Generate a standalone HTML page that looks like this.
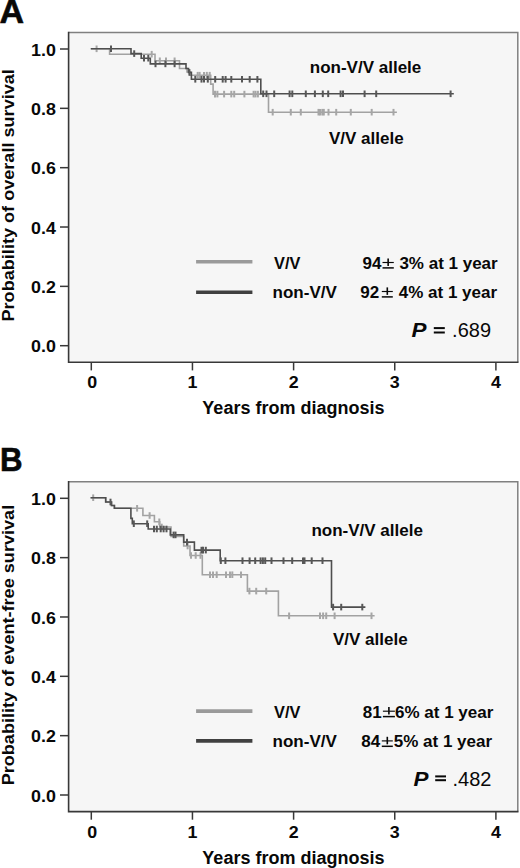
<!DOCTYPE html>
<html><head><meta charset="utf-8"><style>
html,body{margin:0;padding:0;background:#fff;width:520px;height:868px;overflow:hidden}
svg{display:block}
text{font-family:"Liberation Sans", sans-serif;fill:#080808}
.b{font-weight:bold}
.bi{font-weight:bold;font-style:italic}
</style></head><body>
<svg width="520" height="868" viewBox="0 0 520 868">
<text x="-0.50" y="23.10" class="b" font-size="34" stroke="#080808" stroke-width="0.6">A</text><rect x="68.6" y="32.5" width="449.2" height="329.80" fill="#f6f6f6"/><polyline points="68.6,32.5 517.8,32.5 517.8,362.3" fill="none" stroke="#808080" stroke-width="1.5"/><polyline points="68.6,31.8 68.6,362.3 518.5,362.3" fill="none" stroke="#383838" stroke-width="1.6"/><line x1="60" y1="345.70" x2="68.6" y2="345.70" stroke="#383838" stroke-width="1.5"/><text transform="translate(55.90,352.40) scale(1.05,1.0)" text-anchor="end" class="b" font-size="17">0.0</text><line x1="60" y1="286.36" x2="68.6" y2="286.36" stroke="#383838" stroke-width="1.5"/><text transform="translate(55.90,293.06) scale(1.05,1.0)" text-anchor="end" class="b" font-size="17">0.2</text><line x1="60" y1="227.02" x2="68.6" y2="227.02" stroke="#383838" stroke-width="1.5"/><text transform="translate(55.90,233.72) scale(1.05,1.0)" text-anchor="end" class="b" font-size="17">0.4</text><line x1="60" y1="167.68" x2="68.6" y2="167.68" stroke="#383838" stroke-width="1.5"/><text transform="translate(55.90,174.38) scale(1.05,1.0)" text-anchor="end" class="b" font-size="17">0.6</text><line x1="60" y1="108.34" x2="68.6" y2="108.34" stroke="#383838" stroke-width="1.5"/><text transform="translate(55.90,115.04) scale(1.05,1.0)" text-anchor="end" class="b" font-size="17">0.8</text><line x1="60" y1="49.00" x2="68.6" y2="49.00" stroke="#383838" stroke-width="1.5"/><text transform="translate(55.90,55.70) scale(1.05,1.0)" text-anchor="end" class="b" font-size="17">1.0</text><line x1="91.30" y1="362.3" x2="91.30" y2="370.4" stroke="#383838" stroke-width="1.5"/><text transform="translate(92.10,387.70) scale(1.05,1.0)" text-anchor="middle" class="b" font-size="17">0</text><line x1="192.45" y1="362.3" x2="192.45" y2="370.4" stroke="#383838" stroke-width="1.5"/><text transform="translate(192.45,387.70) scale(1.05,1.0)" text-anchor="middle" class="b" font-size="17">1</text><line x1="293.60" y1="362.3" x2="293.60" y2="370.4" stroke="#383838" stroke-width="1.5"/><text transform="translate(293.60,387.70) scale(1.05,1.0)" text-anchor="middle" class="b" font-size="17">2</text><line x1="394.75" y1="362.3" x2="394.75" y2="370.4" stroke="#383838" stroke-width="1.5"/><text transform="translate(394.75,387.70) scale(1.05,1.0)" text-anchor="middle" class="b" font-size="17">3</text><line x1="495.90" y1="362.3" x2="495.90" y2="370.4" stroke="#383838" stroke-width="1.5"/><text transform="translate(495.90,387.70) scale(1.05,1.0)" text-anchor="middle" class="b" font-size="17">4</text><text x="293.40" y="413.60" text-anchor="middle" class="b" font-size="18">Years from diagnosis</text><text transform="translate(14.3,195.3) rotate(-90) scale(1.006,0.93)" text-anchor="middle" class="b" font-size="18">Probability of overall survival</text><polyline points="90.8,48.8 109.6,48.8 109.6,54.2 155,54.2 155,60.8 179.5,60.8 179.5,68.5 187,68.5 187,72 190,72 190,75.2 210.7,75.2 210.7,84.1 213.1,84.1 213.1,94.1 268.5,94.1 268.5,112.2 396.9,112.2" fill="none" stroke="#a2a2a2" stroke-width="1.6"/><line x1="96.6" y1="45.5" x2="96.6" y2="52.099999999999994" stroke="#a6a6a6" stroke-width="2.0"/><line x1="151.7" y1="50.900000000000006" x2="151.7" y2="57.5" stroke="#a6a6a6" stroke-width="2.0"/><line x1="159.8" y1="57.5" x2="159.8" y2="64.1" stroke="#a6a6a6" stroke-width="2.0"/><line x1="166" y1="57.5" x2="166" y2="64.1" stroke="#a6a6a6" stroke-width="2.0"/><line x1="174.6" y1="57.5" x2="174.6" y2="64.1" stroke="#a6a6a6" stroke-width="2.0"/><line x1="197.7" y1="71.9" x2="197.7" y2="78.5" stroke="#a6a6a6" stroke-width="2.0"/><line x1="199.6" y1="71.9" x2="199.6" y2="78.5" stroke="#a6a6a6" stroke-width="2.0"/><line x1="204" y1="71.9" x2="204" y2="78.5" stroke="#a6a6a6" stroke-width="2.0"/><line x1="206.8" y1="71.9" x2="206.8" y2="78.5" stroke="#a6a6a6" stroke-width="2.0"/><line x1="209.7" y1="71.9" x2="209.7" y2="78.5" stroke="#a6a6a6" stroke-width="2.0"/><line x1="215" y1="90.8" x2="215" y2="97.39999999999999" stroke="#a6a6a6" stroke-width="2.0"/><line x1="217.4" y1="90.8" x2="217.4" y2="97.39999999999999" stroke="#a6a6a6" stroke-width="2.0"/><line x1="224.1" y1="90.8" x2="224.1" y2="97.39999999999999" stroke="#a6a6a6" stroke-width="2.0"/><line x1="231.3" y1="90.8" x2="231.3" y2="97.39999999999999" stroke="#a6a6a6" stroke-width="2.0"/><line x1="234.2" y1="90.8" x2="234.2" y2="97.39999999999999" stroke="#a6a6a6" stroke-width="2.0"/><line x1="244.4" y1="90.8" x2="244.4" y2="97.39999999999999" stroke="#a6a6a6" stroke-width="2.0"/><line x1="253.6" y1="90.8" x2="253.6" y2="97.39999999999999" stroke="#a6a6a6" stroke-width="2.0"/><line x1="255.5" y1="90.8" x2="255.5" y2="97.39999999999999" stroke="#a6a6a6" stroke-width="2.0"/><line x1="257.9" y1="90.8" x2="257.9" y2="97.39999999999999" stroke="#a6a6a6" stroke-width="2.0"/><line x1="272.7" y1="108.9" x2="272.7" y2="115.5" stroke="#a6a6a6" stroke-width="2.0"/><line x1="290.8" y1="108.9" x2="290.8" y2="115.5" stroke="#a6a6a6" stroke-width="2.0"/><line x1="300.8" y1="108.9" x2="300.8" y2="115.5" stroke="#a6a6a6" stroke-width="2.0"/><line x1="318.5" y1="108.9" x2="318.5" y2="115.5" stroke="#a6a6a6" stroke-width="2.0"/><line x1="320" y1="108.9" x2="320" y2="115.5" stroke="#a6a6a6" stroke-width="2.0"/><line x1="322.3" y1="108.9" x2="322.3" y2="115.5" stroke="#a6a6a6" stroke-width="2.0"/><line x1="323.8" y1="108.9" x2="323.8" y2="115.5" stroke="#a6a6a6" stroke-width="2.0"/><line x1="328.5" y1="108.9" x2="328.5" y2="115.5" stroke="#a6a6a6" stroke-width="2.0"/><line x1="336.2" y1="108.9" x2="336.2" y2="115.5" stroke="#a6a6a6" stroke-width="2.0"/><line x1="350.8" y1="108.9" x2="350.8" y2="115.5" stroke="#a6a6a6" stroke-width="2.0"/><line x1="371.7" y1="108.9" x2="371.7" y2="115.5" stroke="#a6a6a6" stroke-width="2.0"/><line x1="393.5" y1="108.9" x2="393.5" y2="115.5" stroke="#a6a6a6" stroke-width="2.0"/><polyline points="90.8,48.8 131,48.8 131,53.6 141.2,53.6 141.2,58.2 150.3,58.2 150.3,63.9 186,63.9 186,68.5 188.5,68.5 188.5,72.4 191.4,72.4 191.4,79.3 260.8,79.3 260.8,93.8 453.8,93.8" fill="none" stroke="#4e4e4e" stroke-width="1.6"/><line x1="111" y1="45.5" x2="111" y2="52.099999999999994" stroke="#575757" stroke-width="2.0"/><line x1="134.2" y1="50.300000000000004" x2="134.2" y2="56.9" stroke="#575757" stroke-width="2.0"/><line x1="144" y1="54.900000000000006" x2="144" y2="61.5" stroke="#575757" stroke-width="2.0"/><line x1="148.3" y1="54.900000000000006" x2="148.3" y2="61.5" stroke="#575757" stroke-width="2.0"/><line x1="155.5" y1="60.6" x2="155.5" y2="67.2" stroke="#575757" stroke-width="2.0"/><line x1="165.4" y1="60.6" x2="165.4" y2="67.2" stroke="#575757" stroke-width="2.0"/><line x1="174.6" y1="60.6" x2="174.6" y2="67.2" stroke="#575757" stroke-width="2.0"/><line x1="189.4" y1="69.10000000000001" x2="189.4" y2="75.7" stroke="#575757" stroke-width="2.0"/><line x1="195.3" y1="76.0" x2="195.3" y2="82.6" stroke="#575757" stroke-width="2.0"/><line x1="201.5" y1="76.0" x2="201.5" y2="82.6" stroke="#575757" stroke-width="2.0"/><line x1="204" y1="76.0" x2="204" y2="82.6" stroke="#575757" stroke-width="2.0"/><line x1="207.8" y1="76.0" x2="207.8" y2="82.6" stroke="#575757" stroke-width="2.0"/><line x1="215.2" y1="76.0" x2="215.2" y2="82.6" stroke="#575757" stroke-width="2.0"/><line x1="222.7" y1="76.0" x2="222.7" y2="82.6" stroke="#575757" stroke-width="2.0"/><line x1="225.6" y1="76.0" x2="225.6" y2="82.6" stroke="#575757" stroke-width="2.0"/><line x1="231.3" y1="76.0" x2="231.3" y2="82.6" stroke="#575757" stroke-width="2.0"/><line x1="242" y1="76.0" x2="242" y2="82.6" stroke="#575757" stroke-width="2.0"/><line x1="249.7" y1="76.0" x2="249.7" y2="82.6" stroke="#575757" stroke-width="2.0"/><line x1="257.4" y1="76.0" x2="257.4" y2="82.6" stroke="#575757" stroke-width="2.0"/><line x1="263.2" y1="90.5" x2="263.2" y2="97.1" stroke="#575757" stroke-width="2.0"/><line x1="266.5" y1="90.5" x2="266.5" y2="97.1" stroke="#575757" stroke-width="2.0"/><line x1="274.2" y1="90.5" x2="274.2" y2="97.1" stroke="#575757" stroke-width="2.0"/><line x1="289.6" y1="90.5" x2="289.6" y2="97.1" stroke="#575757" stroke-width="2.0"/><line x1="292.3" y1="90.5" x2="292.3" y2="97.1" stroke="#575757" stroke-width="2.0"/><line x1="305.8" y1="90.5" x2="305.8" y2="97.1" stroke="#575757" stroke-width="2.0"/><line x1="314.9" y1="90.5" x2="314.9" y2="97.1" stroke="#575757" stroke-width="2.0"/><line x1="322.8" y1="90.5" x2="322.8" y2="97.1" stroke="#575757" stroke-width="2.0"/><line x1="328.2" y1="90.5" x2="328.2" y2="97.1" stroke="#575757" stroke-width="2.0"/><line x1="340.6" y1="90.5" x2="340.6" y2="97.1" stroke="#575757" stroke-width="2.0"/><line x1="343" y1="90.5" x2="343" y2="97.1" stroke="#575757" stroke-width="2.0"/><line x1="364.6" y1="90.5" x2="364.6" y2="97.1" stroke="#575757" stroke-width="2.0"/><line x1="376.2" y1="90.5" x2="376.2" y2="97.1" stroke="#575757" stroke-width="2.0"/><line x1="450.6" y1="90.5" x2="450.6" y2="97.1" stroke="#575757" stroke-width="2.0"/><line x1="196.1" y1="261.8" x2="252.4" y2="261.8" stroke="#9a9a9a" stroke-width="3.6"/><line x1="196.1" y1="292.3" x2="252.4" y2="292.3" stroke="#404040" stroke-width="3.6"/><text transform="translate(0.10,471.20) scale(0.92,1.0)" class="b" font-size="34" stroke="#080808" stroke-width="0.6">B</text><rect x="68.6" y="481.8" width="449.2" height="329.80" fill="#f6f6f6"/><polyline points="68.6,481.8 517.8,481.8 517.8,811.6" fill="none" stroke="#808080" stroke-width="1.5"/><polyline points="68.6,481.1 68.6,811.6 518.5,811.6" fill="none" stroke="#383838" stroke-width="1.6"/><line x1="60" y1="795.00" x2="68.6" y2="795.00" stroke="#383838" stroke-width="1.5"/><text transform="translate(55.90,801.70) scale(1.05,1.0)" text-anchor="end" class="b" font-size="17">0.0</text><line x1="60" y1="735.66" x2="68.6" y2="735.66" stroke="#383838" stroke-width="1.5"/><text transform="translate(55.90,742.36) scale(1.05,1.0)" text-anchor="end" class="b" font-size="17">0.2</text><line x1="60" y1="676.32" x2="68.6" y2="676.32" stroke="#383838" stroke-width="1.5"/><text transform="translate(55.90,683.02) scale(1.05,1.0)" text-anchor="end" class="b" font-size="17">0.4</text><line x1="60" y1="616.98" x2="68.6" y2="616.98" stroke="#383838" stroke-width="1.5"/><text transform="translate(55.90,623.68) scale(1.05,1.0)" text-anchor="end" class="b" font-size="17">0.6</text><line x1="60" y1="557.64" x2="68.6" y2="557.64" stroke="#383838" stroke-width="1.5"/><text transform="translate(55.90,564.34) scale(1.05,1.0)" text-anchor="end" class="b" font-size="17">0.8</text><line x1="60" y1="498.30" x2="68.6" y2="498.30" stroke="#383838" stroke-width="1.5"/><text transform="translate(55.90,505.00) scale(1.05,1.0)" text-anchor="end" class="b" font-size="17">1.0</text><line x1="91.30" y1="811.6" x2="91.30" y2="819.7" stroke="#383838" stroke-width="1.5"/><text transform="translate(92.10,837.50) scale(1.05,1.0)" text-anchor="middle" class="b" font-size="17">0</text><line x1="192.45" y1="811.6" x2="192.45" y2="819.7" stroke="#383838" stroke-width="1.5"/><text transform="translate(192.45,837.50) scale(1.05,1.0)" text-anchor="middle" class="b" font-size="17">1</text><line x1="293.60" y1="811.6" x2="293.60" y2="819.7" stroke="#383838" stroke-width="1.5"/><text transform="translate(293.60,837.50) scale(1.05,1.0)" text-anchor="middle" class="b" font-size="17">2</text><line x1="394.75" y1="811.6" x2="394.75" y2="819.7" stroke="#383838" stroke-width="1.5"/><text transform="translate(394.75,837.50) scale(1.05,1.0)" text-anchor="middle" class="b" font-size="17">3</text><line x1="495.90" y1="811.6" x2="495.90" y2="819.7" stroke="#383838" stroke-width="1.5"/><text transform="translate(495.90,837.50) scale(1.05,1.0)" text-anchor="middle" class="b" font-size="17">4</text><text x="293.40" y="864.30" text-anchor="middle" class="b" font-size="18">Years from diagnosis</text><text transform="translate(14.3,645.1) rotate(-90) scale(1.006,0.93)" text-anchor="middle" class="b" font-size="18">Probability of event-free survival</text><polyline points="90.6,497.7 105.7,497.7 105.7,502 111.5,502 111.5,505.5 114.4,505.5 114.4,508.3 142.9,508.3 142.9,515.5 154.4,515.5 154.4,521.8 159.7,521.8 159.7,527 171,527 171,536.5 183.7,536.5 183.7,546 190,546 190,555.5 202.3,555.5 202.3,574.7 247.4,574.7 247.4,591.1 278.4,591.1 278.4,615.8 374.6,615.8" fill="none" stroke="#a2a2a2" stroke-width="1.6"/><line x1="93.2" y1="494.4" x2="93.2" y2="501.0" stroke="#a6a6a6" stroke-width="2.0"/><line x1="137.1" y1="505.0" x2="137.1" y2="511.6" stroke="#a6a6a6" stroke-width="2.0"/><line x1="149.6" y1="512.2" x2="149.6" y2="518.8" stroke="#a6a6a6" stroke-width="2.0"/><line x1="159.3" y1="518.5" x2="159.3" y2="525.0999999999999" stroke="#a6a6a6" stroke-width="2.0"/><line x1="161.7" y1="523.7" x2="161.7" y2="530.3" stroke="#a6a6a6" stroke-width="2.0"/><line x1="187.6" y1="542.7" x2="187.6" y2="549.3" stroke="#a6a6a6" stroke-width="2.0"/><line x1="191" y1="552.2" x2="191" y2="558.8" stroke="#a6a6a6" stroke-width="2.0"/><line x1="195.7" y1="552.2" x2="195.7" y2="558.8" stroke="#a6a6a6" stroke-width="2.0"/><line x1="200.5" y1="552.2" x2="200.5" y2="558.8" stroke="#a6a6a6" stroke-width="2.0"/><line x1="210" y1="571.4000000000001" x2="210" y2="578.0" stroke="#a6a6a6" stroke-width="2.0"/><line x1="213" y1="571.4000000000001" x2="213" y2="578.0" stroke="#a6a6a6" stroke-width="2.0"/><line x1="216.7" y1="571.4000000000001" x2="216.7" y2="578.0" stroke="#a6a6a6" stroke-width="2.0"/><line x1="226" y1="571.4000000000001" x2="226" y2="578.0" stroke="#a6a6a6" stroke-width="2.0"/><line x1="230" y1="571.4000000000001" x2="230" y2="578.0" stroke="#a6a6a6" stroke-width="2.0"/><line x1="232.3" y1="571.4000000000001" x2="232.3" y2="578.0" stroke="#a6a6a6" stroke-width="2.0"/><line x1="241" y1="571.4000000000001" x2="241" y2="578.0" stroke="#a6a6a6" stroke-width="2.0"/><line x1="249.4" y1="587.8000000000001" x2="249.4" y2="594.4" stroke="#a6a6a6" stroke-width="2.0"/><line x1="256.2" y1="587.8000000000001" x2="256.2" y2="594.4" stroke="#a6a6a6" stroke-width="2.0"/><line x1="266.2" y1="587.8000000000001" x2="266.2" y2="594.4" stroke="#a6a6a6" stroke-width="2.0"/><line x1="289.1" y1="612.5" x2="289.1" y2="619.0999999999999" stroke="#a6a6a6" stroke-width="2.0"/><line x1="320" y1="612.5" x2="320" y2="619.0999999999999" stroke="#a6a6a6" stroke-width="2.0"/><line x1="323.1" y1="612.5" x2="323.1" y2="619.0999999999999" stroke="#a6a6a6" stroke-width="2.0"/><line x1="326.2" y1="612.5" x2="326.2" y2="619.0999999999999" stroke="#a6a6a6" stroke-width="2.0"/><line x1="334.6" y1="612.5" x2="334.6" y2="619.0999999999999" stroke="#a6a6a6" stroke-width="2.0"/><line x1="371.5" y1="612.5" x2="371.5" y2="619.0999999999999" stroke="#a6a6a6" stroke-width="2.0"/><polyline points="90.6,497.7 105.7,497.7 105.7,502 111.5,502 111.5,505.5 114.4,505.5 114.4,508.3 130.9,508.3 130.9,518.4 132.3,518.4 132.3,523.7 148.2,523.7 148.2,529 170.3,529 170.3,534.9 183.7,534.9 183.7,542.1 194.4,542.1 194.4,550.1 220.2,550.1 220.2,560.7 331.5,560.7 331.5,607.1 365.4,607.1" fill="none" stroke="#4e4e4e" stroke-width="1.6"/><line x1="110.5" y1="498.7" x2="110.5" y2="505.3" stroke="#575757" stroke-width="2.0"/><line x1="133.8" y1="520.4000000000001" x2="133.8" y2="527.0" stroke="#575757" stroke-width="2.0"/><line x1="147.2" y1="520.4000000000001" x2="147.2" y2="527.0" stroke="#575757" stroke-width="2.0"/><line x1="154" y1="525.7" x2="154" y2="532.3" stroke="#575757" stroke-width="2.0"/><line x1="156.8" y1="525.7" x2="156.8" y2="532.3" stroke="#575757" stroke-width="2.0"/><line x1="160.7" y1="525.7" x2="160.7" y2="532.3" stroke="#575757" stroke-width="2.0"/><line x1="163.6" y1="525.7" x2="163.6" y2="532.3" stroke="#575757" stroke-width="2.0"/><line x1="166.5" y1="525.7" x2="166.5" y2="532.3" stroke="#575757" stroke-width="2.0"/><line x1="173.6" y1="531.6" x2="173.6" y2="538.1999999999999" stroke="#575757" stroke-width="2.0"/><line x1="175.5" y1="531.6" x2="175.5" y2="538.1999999999999" stroke="#575757" stroke-width="2.0"/><line x1="187" y1="538.8000000000001" x2="187" y2="545.4" stroke="#575757" stroke-width="2.0"/><line x1="201.5" y1="546.8000000000001" x2="201.5" y2="553.4" stroke="#575757" stroke-width="2.0"/><line x1="203" y1="546.8000000000001" x2="203" y2="553.4" stroke="#575757" stroke-width="2.0"/><line x1="205.8" y1="546.8000000000001" x2="205.8" y2="553.4" stroke="#575757" stroke-width="2.0"/><line x1="220.8" y1="557.4000000000001" x2="220.8" y2="564.0" stroke="#575757" stroke-width="2.0"/><line x1="225.4" y1="557.4000000000001" x2="225.4" y2="564.0" stroke="#575757" stroke-width="2.0"/><line x1="242.5" y1="557.4000000000001" x2="242.5" y2="564.0" stroke="#575757" stroke-width="2.0"/><line x1="249.6" y1="557.4000000000001" x2="249.6" y2="564.0" stroke="#575757" stroke-width="2.0"/><line x1="255.2" y1="557.4000000000001" x2="255.2" y2="564.0" stroke="#575757" stroke-width="2.0"/><line x1="260.6" y1="557.4000000000001" x2="260.6" y2="564.0" stroke="#575757" stroke-width="2.0"/><line x1="262.9" y1="557.4000000000001" x2="262.9" y2="564.0" stroke="#575757" stroke-width="2.0"/><line x1="265.2" y1="557.4000000000001" x2="265.2" y2="564.0" stroke="#575757" stroke-width="2.0"/><line x1="271.5" y1="557.4000000000001" x2="271.5" y2="564.0" stroke="#575757" stroke-width="2.0"/><line x1="283.5" y1="557.4000000000001" x2="283.5" y2="564.0" stroke="#575757" stroke-width="2.0"/><line x1="292.2" y1="557.4000000000001" x2="292.2" y2="564.0" stroke="#575757" stroke-width="2.0"/><line x1="303" y1="557.4000000000001" x2="303" y2="564.0" stroke="#575757" stroke-width="2.0"/><line x1="304.5" y1="557.4000000000001" x2="304.5" y2="564.0" stroke="#575757" stroke-width="2.0"/><line x1="311.7" y1="557.4000000000001" x2="311.7" y2="564.0" stroke="#575757" stroke-width="2.0"/><line x1="322.5" y1="557.4000000000001" x2="322.5" y2="564.0" stroke="#575757" stroke-width="2.0"/><line x1="333.1" y1="603.8000000000001" x2="333.1" y2="610.4" stroke="#575757" stroke-width="2.0"/><line x1="341.2" y1="603.8000000000001" x2="341.2" y2="610.4" stroke="#575757" stroke-width="2.0"/><line x1="362.3" y1="603.8000000000001" x2="362.3" y2="610.4" stroke="#575757" stroke-width="2.0"/><line x1="196.1" y1="711.1" x2="252.4" y2="711.1" stroke="#9a9a9a" stroke-width="3.6"/><line x1="196.1" y1="740.9" x2="252.4" y2="740.9" stroke="#404040" stroke-width="3.6"/><text x="309.80" y="73.10" class="b" font-size="17">non-V/V allele</text><text x="329.00" y="143.90" class="b" font-size="17">V/V allele</text><text x="311.40" y="536.20" class="b" font-size="17">non-V/V allele</text><text x="333.00" y="644.60" class="b" font-size="17">V/V allele</text><text transform="translate(274.00,269.40) scale(0.96,1.0)" class="b" font-size="17">V/V</text><text x="272.60" y="297.80" class="b" font-size="17">non-V/V</text><text transform="translate(274.00,717.90) scale(0.96,1.0)" class="b" font-size="17">V/V</text><text x="272.60" y="747.10" class="b" font-size="17">non-V/V</text><text x="362.50" y="268.90" class="b" font-size="17">94</text><g stroke="#080808"><line x1="382.5" y1="262.50" x2="393.8" y2="262.50" stroke-width="1.15"/><line x1="388.15" y1="258.40" x2="388.15" y2="265.90" stroke-width="1.6"/><line x1="382.5" y1="267.90" x2="393.8" y2="267.90" stroke-width="1.5"/></g><text x="399.40" y="268.90" class="b" font-size="17">3% at 1 year</text><text x="360.20" y="298.00" class="b" font-size="17">92</text><g stroke="#080808"><line x1="381.8" y1="291.50" x2="392.8" y2="291.50" stroke-width="1.15"/><line x1="387.30" y1="287.40" x2="387.30" y2="294.90" stroke-width="1.6"/><line x1="381.8" y1="296.90" x2="392.8" y2="296.90" stroke-width="1.5"/></g><text x="398.80" y="298.00" class="b" font-size="17">4% at 1 year</text><text x="362.70" y="717.80" class="b" font-size="17">81</text><g stroke="#080808"><line x1="382.9" y1="711.20" x2="394.9" y2="711.20" stroke-width="1.15"/><line x1="388.90" y1="707.10" x2="388.90" y2="714.60" stroke-width="1.6"/><line x1="382.9" y1="716.60" x2="394.9" y2="716.60" stroke-width="1.5"/></g><text x="395.00" y="717.80" class="b" font-size="17">6% at 1 year</text><text x="361.20" y="747.30" class="b" font-size="17">84</text><g stroke="#080808"><line x1="381.8" y1="740.90" x2="392.8" y2="740.90" stroke-width="1.15"/><line x1="387.30" y1="736.80" x2="387.30" y2="744.30" stroke-width="1.6"/><line x1="381.8" y1="746.30" x2="392.8" y2="746.30" stroke-width="1.5"/></g><text x="393.80" y="747.30" class="b" font-size="17">5% at 1 year</text><text transform="translate(411.60,337.40) scale(1.07,1.0)" class="bi" font-size="21">P</text><rect x="433.8" y="327.1" width="11.00" height="2" fill="#080808"/><rect x="433.8" y="331.50" width="11.00" height="2" fill="#080808"/><text x="452.10" y="337.30" font-size="20" textLength="39">.689</text><text transform="translate(413.40,785.70) scale(1.07,1.0)" class="bi" font-size="21">P</text><rect x="435.2" y="775.4" width="10.80" height="2" fill="#080808"/><rect x="435.2" y="779.20" width="10.80" height="2" fill="#080808"/><text x="452.40" y="785.60" font-size="20" textLength="39">.482</text>
</svg>
</body></html>
